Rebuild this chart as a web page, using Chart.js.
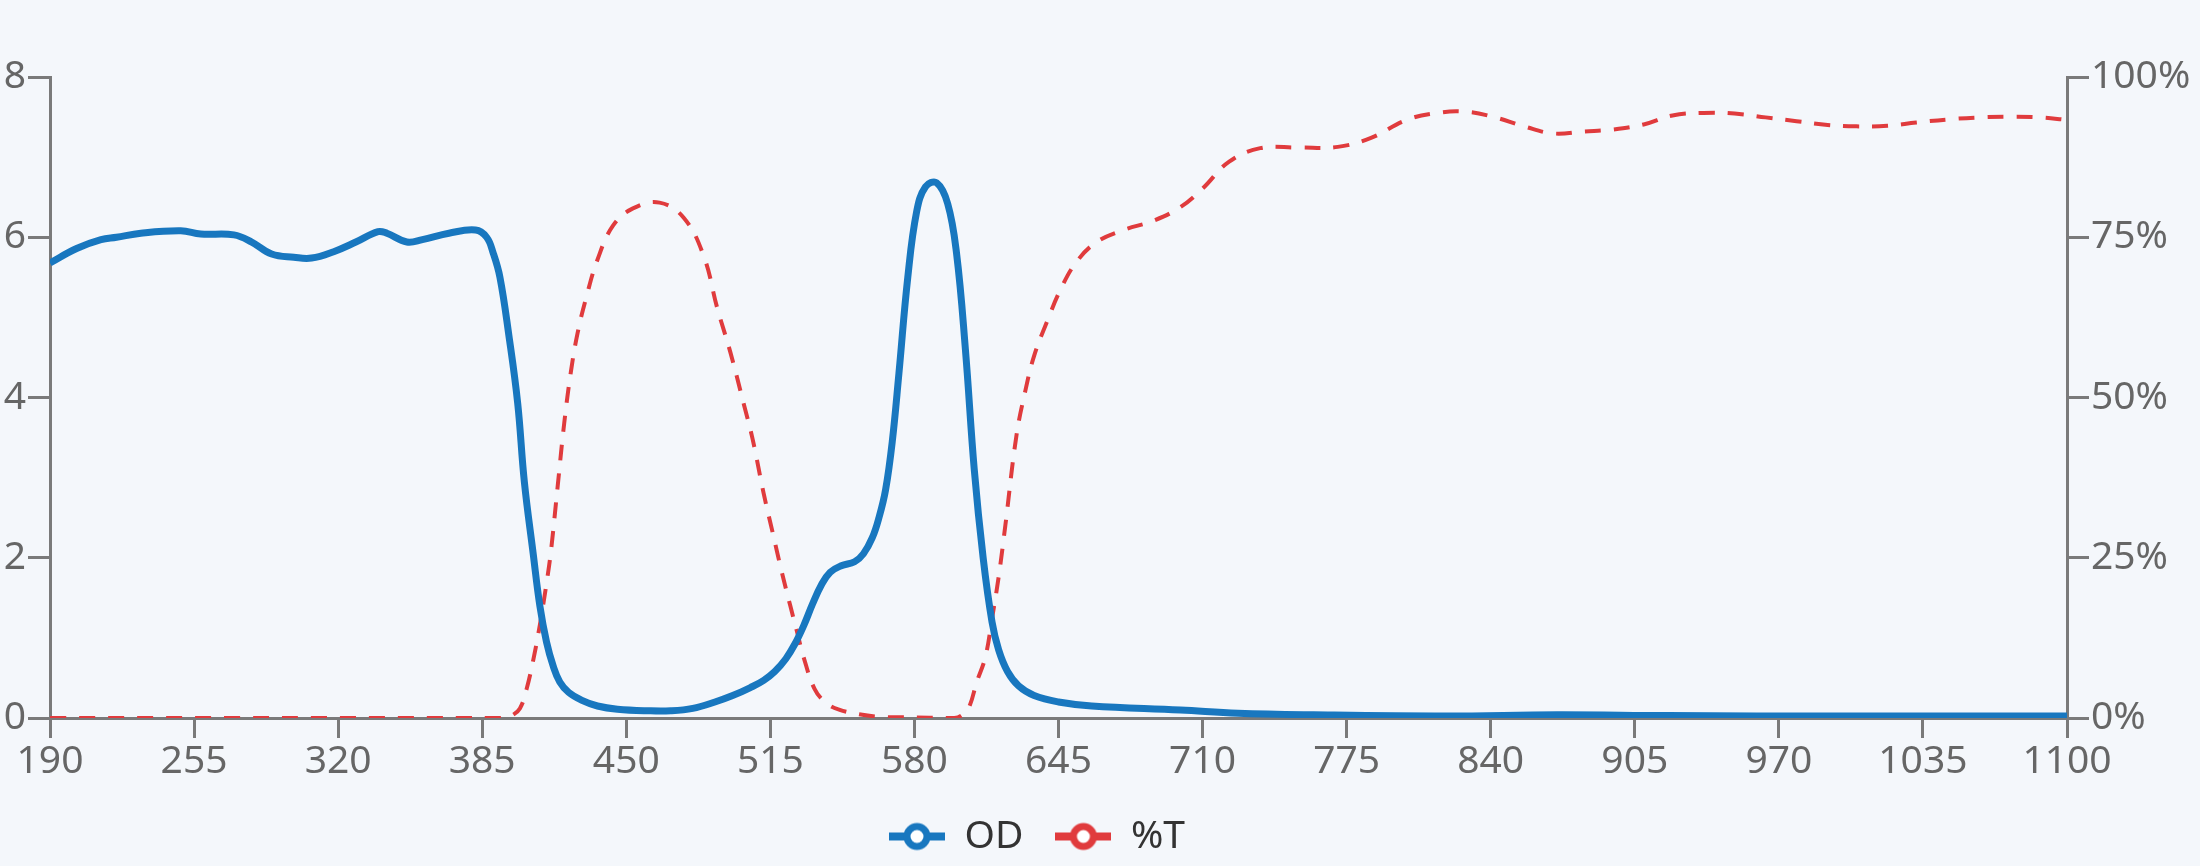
<!DOCTYPE html>
<html>
<head>
<meta charset="utf-8">
<script src="https://cdn.jsdelivr.net/npm/chart.js@4/dist/chart.umd.min.js"></script>
<style>
  html, body { margin: 0; padding: 0; background: #f4f7fb; }
  #wrap { width: 2200px; height: 866px; }
</style>
</head>
<body>
<div id="wrap"><canvas id="chart" width="2200" height="866"></canvas></div>
<script>
// OD curve (wavelength in nm)
const odWavelengths = [190, 202, 213, 220, 231, 249, 258, 273, 281, 290, 300, 308, 318, 328, 338, 342, 351, 358, 370, 382,
    387, 390, 393, 397, 401, 404, 408, 411, 414, 417, 420, 424, 430, 437, 446, 460, 470, 480, 490, 498,
    506, 512, 517, 522, 526, 530, 534, 538, 542, 547, 553, 557, 561, 564, 567, 570, 573, 577, 581, 585,
    590, 595, 599, 603, 607, 611, 615, 618, 622, 627, 634, 645, 660, 700, 726, 760, 820, 870, 920, 1000,
    1100];
const odValues = [5.68, 5.86, 5.97, 6.00, 6.05, 6.08, 6.04, 6.03, 5.94, 5.79, 5.75, 5.74, 5.82, 5.94, 6.07, 6.05, 5.94, 5.97, 6.05, 6.09,
    6.00, 5.80, 5.50, 4.78, 3.93, 2.95, 2.05, 1.40, 0.95, 0.65, 0.45, 0.32, 0.22, 0.15, 0.11, 0.09, 0.09, 0.12, 0.20, 0.28,
    0.38, 0.47, 0.58, 0.74, 0.92, 1.15, 1.42, 1.66, 1.82, 1.90, 1.95, 2.05, 2.25, 2.50, 2.85, 3.45, 4.30, 5.50, 6.32, 6.63,
    6.68, 6.42, 5.80, 4.60, 3.10, 2.00, 1.20, 0.85, 0.58, 0.40, 0.28, 0.20, 0.15, 0.10, 0.06, 0.04, 0.025, 0.04, 0.03, 0.025,
    0.025];

// %T curve
const tWavelengths = [190, 395, 398, 402, 405, 408, 411, 414, 416, 419, 422, 425, 428, 432, 437, 444, 453, 465, 476, 485,
    491, 497, 503, 507, 512, 516, 520, 524, 527, 530, 535, 540, 546, 555, 564, 575, 598, 602, 605, 608,
    612, 615, 618, 621, 626, 630, 634, 640, 646, 653, 662, 674, 688, 700, 710, 722, 736, 753, 771, 786,
    802, 816, 828, 841, 855, 868, 882, 895, 909, 922, 936, 950, 964, 978, 992, 1005, 1019, 1032, 1047, 1061,
    1074, 1088, 1100];
const tValues = [0, 0, 0.3, 1.5, 4.5, 9, 14.5, 21, 26, 36, 46, 54, 60, 65.7, 71.5, 76.8, 79.5, 80.4, 78, 72,
    64, 57, 49, 43.5, 35, 29, 23, 17.5, 13.5, 9.5, 4.5, 2.4, 1.3, 0.6, 0.2, 0.1, 0, 0.6, 2, 5.5,
    9.5, 15.5, 22, 30, 44, 51, 56.5, 62, 66.9, 71.1, 74.2, 76.1, 77.6, 79.7, 82.6, 86.8, 88.9, 89, 89.1, 90.5,
    93.3, 94.4, 94.6, 93.8, 92.3, 91.2, 91.5, 91.8, 92.6, 94.0, 94.4, 94.3, 93.7, 93.1, 92.5, 92.3, 92.4, 92.9, 93.4, 93.7,
    93.8, 93.7, 93.3];

const xTicks = [190, 255, 320, 385, 450, 515, 580, 645, 710, 775, 840, 905, 970, 1035, 1100];
const odTicks = [0, 2, 4, 6, 8];
const tTicks = [0, 25, 50, 75, 100];

const blue = '#1877bf';
const red = '#e03b3d';
const axisGray = '#7a7a7a';
const tickFont = { family: 'Noto Sans', size: 39 };

// legend marker: short line with a hollow circle
function legendIcon(color) {
    const c = document.createElement('canvas');
    c.width = 56;
    c.height = 30;
    const g = c.getContext('2d');
    g.strokeStyle = color;
    g.lineWidth = 8;
    g.beginPath();
    g.moveTo(0, 15);
    g.lineTo(56, 15);
    g.stroke();
    g.fillStyle = '#ffffff';
    g.lineWidth = 7;
    g.beginPath();
    g.arc(28, 15, 10, 0, Math.PI * 2);
    g.fill();
    g.stroke();
    return c;
}

const legendShift = {
    id: 'legendShift',
    afterLayout(chart) {
        const lg = chart.legend;
        const dx = -63;
        lg.left += dx;
        lg.right += dx;
        const dy = 785 - lg.top;
        lg.top += dy;
        lg.bottom += dy;
    }
};

const ctx = document.getElementById('chart').getContext('2d');
new Chart(ctx, {
    type: 'line',
    data: {
        datasets: [
            {
                label: 'OD',
                data: odWavelengths.map((w, i) => ({ x: w, y: odValues[i] })),
                yAxisID: 'yOD',
                borderColor: blue,
                backgroundColor: blue,
                borderWidth: 7,
                pointRadius: 0,
                pointStyle: legendIcon(blue),
                tension: 0.4
            },
            {
                label: '%T',
                data: tWavelengths.map((w, i) => ({ x: w, y: tValues[i] })),
                yAxisID: 'yT',
                borderColor: red,
                backgroundColor: red,
                borderWidth: 4,
                borderDash: [16, 13],
                pointRadius: 0,
                pointStyle: legendIcon(red),
                tension: 0.4
            }
        ]
    },
    options: {
        responsive: false,
        animation: false,
        layout: { padding: { top: 77, left: 0, right: 0, bottom: 0 } },
        plugins: {
            tooltip: { enabled: false },
            legend: {
                position: 'bottom',
                labels: {
                    usePointStyle: true,
                    pointStyleWidth: 56,
                    boxHeight: 30,
                    padding: 32,
                    color: '#333',
                    font: { family: 'Noto Sans', size: 39 }
                }
            }
        },
        scales: {
            x: {
                type: 'linear',
                min: 190,
                max: 1100,
                afterBuildTicks: scale => { scale.ticks = xTicks.map(v => ({ value: v })); },
                afterFit: scale => { scale.height = 866 - 718 - scale.chart.legend.height; },
                grid: { drawOnChartArea: false, color: axisGray, lineWidth: 3, tickLength: 20 },
                border: { color: axisGray, width: 3 },
                ticks: { color: '#666', font: tickFont, padding: 0, autoSkip: false, maxRotation: 0, callback: v => String(v) }
            },
            yOD: {
                type: 'linear',
                position: 'left',
                min: 0,
                max: 8,
                afterBuildTicks: scale => { scale.ticks = odTicks.map(v => ({ value: v })); },
                afterFit: scale => { scale.width = 50; },
                grid: { drawOnChartArea: false, color: axisGray, lineWidth: 3, tickLength: 22 },
                border: { color: axisGray, width: 3 },
                ticks: { color: '#666', font: tickFont, padding: 2 }
            },
            yT: {
                type: 'linear',
                position: 'right',
                min: 0,
                max: 100,
                afterBuildTicks: scale => { scale.ticks = tTicks.map(v => ({ value: v })); },
                afterFit: scale => { scale.width = 133; },
                grid: { drawOnChartArea: false, color: axisGray, lineWidth: 3, tickLength: 22 },
                border: { color: axisGray, width: 3 },
                ticks: { color: '#666', font: tickFont, padding: 2, callback: v => v + '%' }
            }
        }
    },
    plugins: [legendShift]
});
</script>
</body>
</html>
